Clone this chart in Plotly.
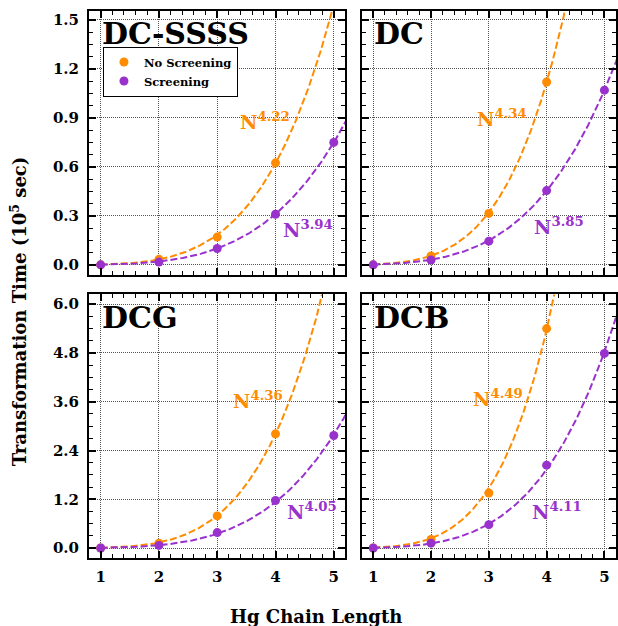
import numpy as np
import plotly.graph_objects as go

# ---------------- data ----------------
N_no = [1, 2, 3, 4]
N_scr = [1, 2, 3, 4, 5]
x_ticks = [1, 2, 3, 4, 5]

panels = ["DC-SSSS", "DC", "DCG", "DCB"]

no_screening = {
    "DC-SSSS": [0.0, 0.034, 0.17, 0.625],
    "DC": [0.0, 0.055, 0.315, 1.12],
    "DCG": [0.0, 0.12, 0.79, 2.81],
    "DCB": [0.0, 0.21, 1.355, 5.40],
}
screening = {
    "DC-SSSS": [0.0, 0.017, 0.10, 0.31, 0.75],
    "DC": [0.0, 0.03, 0.145, 0.455, 1.07],
    "DCG": [0.0, 0.065, 0.38, 1.17, 2.77],
    "DCB": [0.0, 0.12, 0.575, 2.04, 4.79],
}
exp_no = {"DC-SSSS": 4.22, "DC": 4.34, "DCG": 4.36, "DCB": 4.49}
exp_scr = {"DC-SSSS": 3.94, "DC": 3.85, "DCG": 4.05, "DCB": 4.11}

# label anchor positions (data coords) for the exponent labels
lab_no_pos = {"DC-SSSS": (3.36, 0.88), "DC": (2.76, 0.90), "DCG": (3.24, 3.64), "DCB": (2.69, 3.68)}
lab_scr_pos = {"DC-SSSS": (4.10, 0.22), "DC": (3.75, 0.235), "DCG": (4.17, 0.91), "DCB": (3.71, 0.91)}

ORANGE = "#FF8C00"
PURPLE = "#9932CC"
FONT = "DejaVu Serif"

# ---------------- layout geometry ----------------
W, H = 618, 626
ML, MR, MT, MB = 89, 0, 11, 68
x_dom = [[0.0, 0.4866], [0.5174, 1.0]]
y_dom = [[0.518, 1.0], [0.0, 0.4818]]
y_ranges = [[-0.06, 1.555], [-0.245, 6.24]]
y_dticks = [0.3, 1.2]
y_minor = [0.075, 0.3]
x_range = [0.8, 5.2]


def power_fit(xs, ys, b):
    xs = np.asarray(xs, float)
    ys = np.asarray(ys, float)
    return float(np.sum(ys * xs ** b) / np.sum(xs ** (2 * b)))


fig = go.Figure()
annotations = []

for i, name in enumerate(panels):
    row, col = divmod(i, 2)
    idx = i + 1
    xa = "x" if idx == 1 else f"x{idx}"
    ya = "y" if idx == 1 else f"y{idx}"

    # fitted curves
    xs = np.linspace(1, 5.3, 300)
    a_no = power_fit(N_no, no_screening[name], exp_no[name])
    a_sc = power_fit(N_scr, screening[name], exp_scr[name])
    fig.add_trace(go.Scatter(x=xs, y=a_no * xs ** exp_no[name], mode="lines",
                             line=dict(color=ORANGE, width=2, dash="7px,3px"),
                             showlegend=False, hoverinfo="skip", xaxis=xa, yaxis=ya))
    fig.add_trace(go.Scatter(x=xs, y=a_sc * xs ** exp_scr[name], mode="lines",
                             line=dict(color=PURPLE, width=2, dash="7px,3px"),
                             showlegend=False, hoverinfo="skip", xaxis=xa, yaxis=ya))
    # data points
    fig.add_trace(go.Scatter(x=N_no, y=no_screening[name], mode="markers",
                             marker=dict(color=ORANGE, size=9), name="No Screening",
                             showlegend=(i == 0), xaxis=xa, yaxis=ya))
    fig.add_trace(go.Scatter(x=N_scr, y=screening[name], mode="markers",
                             marker=dict(color=PURPLE, size=9), name="Screening",
                             showlegend=(i == 0), xaxis=xa, yaxis=ya))

    common = dict(showline=True, linecolor="black", linewidth=2, mirror="allticks",
                  ticks="inside", ticklen=7, tickwidth=1.5, tickcolor="black",
                  showgrid=True, gridcolor="#555555", gridwidth=1, griddash="1px,1px",
                  zeroline=False,
                  tickfont=dict(family=FONT, size=15, color="black", weight="bold"))
    xkey = "xaxis" if idx == 1 else f"xaxis{idx}"
    ykey = "yaxis" if idx == 1 else f"yaxis{idx}"
    fig.update_layout({
        xkey: dict(common, domain=x_dom[col], range=x_range, anchor=ya,
                   tickmode="array", tickvals=x_ticks, ticktext=[str(t) for t in x_ticks],
                   showticklabels=(row == 1), ticklabelstandoff=4,
                   minor=dict(ticks="inside", ticklen=4, tickwidth=1, tickcolor="black",
                              dtick=0.2, tick0=1, showgrid=False)),
        ykey: dict(common, domain=y_dom[row], range=y_ranges[row], anchor=xa,
                   tickmode="linear", tick0=0, dtick=y_dticks[row], tickformat=".1f",
                   showticklabels=(col == 0), ticklabelstandoff=5,
                   minor=dict(ticks="inside", ticklen=4, tickwidth=1, tickcolor="black",
                              dtick=y_minor[row], tick0=0, showgrid=False)),
    })

    # panel title
    annotations.append(dict(text=name, xref=f"{xa} domain", yref=f"{ya} domain",
                            x=0.042, y=0.913, xanchor="left", yanchor="middle",
                            showarrow=False,
                            font=dict(family=FONT, size=30, color="black", weight="bold")))
    # exponent labels
    for pos, ex, colr in ((lab_no_pos[name], exp_no[name], ORANGE),
                          (lab_scr_pos[name], exp_scr[name], PURPLE)):
        annotations.append(dict(text=f"N<sup>{ex:.2f}</sup>", xref=xa, yref=ya,
                                x=pos[0], y=pos[1], xanchor="left", yanchor="middle",
                                showarrow=False,
                                font=dict(family=FONT, size=19, color=colr, weight="bold")))

# shared axis titles
annotations.append(dict(text="Hg Chain Length", xref="paper", yref="paper",
                        x=0.431, y=-0.107, xanchor="center", yanchor="middle",
                        showarrow=False,
                        font=dict(family=FONT, size=18, color="black", weight="bold")))
annotations.append(dict(text="Transformation Time (10<sup>5</sup> sec)", xref="paper", yref="paper",
                        x=-0.133, y=0.451, xanchor="center", yanchor="middle", textangle=-90,
                        showarrow=False,
                        font=dict(family=FONT, size=18, color="black", weight="bold")))

fig.update_layout(
    width=W, height=H,
    margin=dict(l=ML, r=MR, t=MT, b=MB),
    paper_bgcolor="white", plot_bgcolor="white",
    annotations=annotations,
    legend=dict(x=0.0265, y=0.935, xanchor="left", yanchor="top",
                bgcolor="white", bordercolor="black", borderwidth=1,
                font=dict(family=FONT, size=11.5, color="black", weight="bold"),
                itemwidth=30, tracegroupgap=0),
    showlegend=True,
)

fig.write_html("out.html", config={"displayModeBar": False},
               post_script="document.body.style.margin='0px';document.body.style.overflow='hidden';")
